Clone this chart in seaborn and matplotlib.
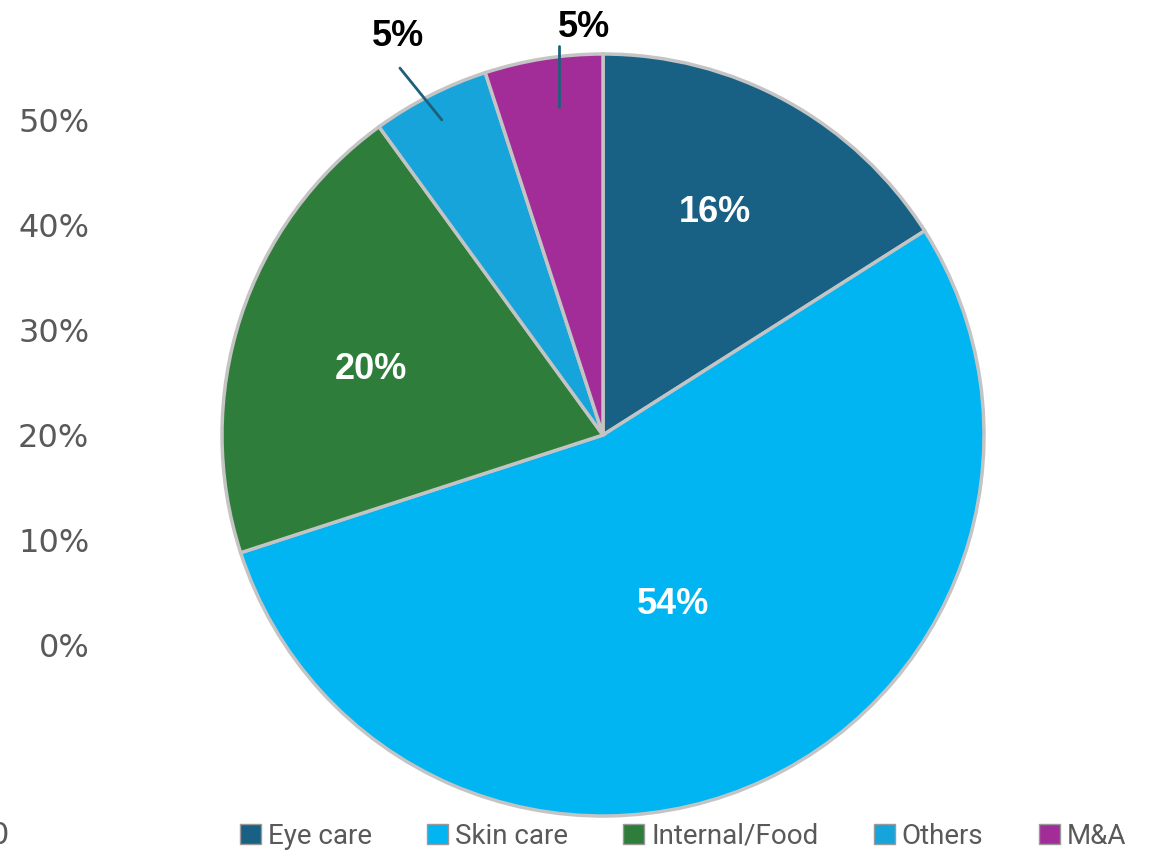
import numpy as np
import matplotlib
matplotlib.use("Agg")
import matplotlib.pyplot as plt
import matplotlib.patches as mpatches
from matplotlib import font_manager
import seaborn as sns

# Revenue mix by business segment
segments = ["Eye care", "Skin care", "Internal/Food", "Others", "M&A"]
shares = [16, 54, 20, 5, 5]
colors = ["#186184", "#00b5f1", "#2f7d3b", "#16a4da", "#a32d98"]
axis_ticks = [0, 0.1, 0.2, 0.3, 0.4, 0.5]
axis_tick_labels = ["0%", "10%", "20%", "30%", "40%", "50%"]

sns.set_theme(style="white")
names = {f.name for f in font_manager.fontManager.ttflist}
narrow = "Liberation Sans Narrow" if "Liberation Sans Narrow" in names else "Roboto"
plt.rcParams["font.family"] = ["DejaVu Sans"]

W, H = 1153, 858
fig = plt.figure(figsize=(W / 100, H / 100), dpi=100)
fig.patch.set_facecolor("white")

# Left percentage scale
axl = fig.add_axes([92 / W, 1 - 645 / H, 0.002, (645 - 120) / H])
axl.set_ylim(0, 0.5)
axl.set_yticks(axis_ticks)
axl.set_yticklabels(axis_tick_labels, fontsize=23, color="#595959")
axl.tick_params(axis="y", length=0, pad=2)
axl.set_xticks([])
for s in axl.spines.values():
    s.set_visible(False)
axl.patch.set_alpha(0)

# Pie
cx, cy, r = 603, 435, 381
ax = fig.add_axes([(cx - r) / W, (H - cy - r) / H, 2 * r / W, 2 * r / H])
wedges, _ = ax.pie(
    shares, colors=colors, startangle=90, counterclock=False, radius=1,
    wedgeprops=dict(edgecolor="#c4c4c4", linewidth=2.5),
)
ax.set_xlim(-1, 1)
ax.set_ylim(-1, 1)
ax.set_aspect("equal")
ax.axis("off")

bold = dict(family="Liberation Sans", fontweight="bold", fontsize=26,
            ha="center", va="center")
# radial distance and angular nudge (degrees) of each in-slice label
inner_r = [0.655, 0.482, 0.632]
inner_nudge = [2.1, -2.8, 2.3]
for w, val, rr, dn in zip(wedges[:3], shares[:3], inner_r, inner_nudge):
    mid = np.deg2rad((w.theta1 + w.theta2) / 2 + dn)
    ax.text(rr * np.cos(mid), rr * np.sin(mid), f"{val}%", color="white", **bold)

# Outside labels with leader lines for the two small slices
leader = "#1e607c"
ax.plot([-0.423, -0.533], [0.827, 0.963], color=leader, lw=2, clip_on=False)
ax.text(-0.538, 1.045, f"{shares[3]}%", color="black", clip_on=False, **bold)
ax.plot([-0.115, -0.115], [0.86, 1.02], color=leader, lw=2, clip_on=False)
ax.text(-0.05, 1.07, f"{shares[4]}%", color="black", clip_on=False, **bold)

# Legend
handles = [mpatches.Patch(facecolor=c, edgecolor="#9a9a9a", linewidth=1) for c in colors]
leg = fig.legend(
    handles, segments, loc="center", bbox_to_anchor=(683 / W, 1 - 836 / H),
    ncol=5, frameon=False, handlelength=0.75, handleheight=0.75,
    handletextpad=0.25, columnspacing=2.0,
    prop=dict(family=narrow, size=20),
)
for t in leg.get_texts():
    t.set_color("#595959")

# Trailing scale mark at the lower left edge
fig.text(0.0, 1 - 835 / H, "0", fontsize=22, color="#595959", ha="center", va="center")

fig.savefig("out.png", dpi=100, facecolor="white")
